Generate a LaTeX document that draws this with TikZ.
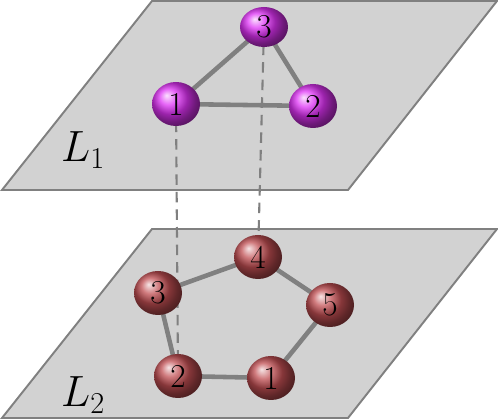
\documentclass[tikz,border=0pt]{standalone}
\usepackage{amsmath,amssymb}
\usepackage{xcolor}
\usepackage{tikz}
\usetikzlibrary{shapes.geometric}

\definecolor{vtop}{RGB}{222,50,245}
\definecolor{vbot}{RGB}{192,78,82}

\begin{document}
\begin{tikzpicture}[
  pln/.style={draw=gray, line width=1.1pt, fill=gray!35},
  vtx/.style={ellipse, inner sep=0pt, minimum width=9.6mm, minimum height=8.8mm,
              font=\fontsize{19}{21}\selectfont},
  vt/.style={vtx, ball color=vtop},
  vb/.style={vtx, ball color=vbot},
  edg/.style={draw=gray, line width=2.6pt},
  cpl/.style={draw=gray, line width=1.2pt, dash pattern=on 6pt off 4pt},
  lbl/.style={anchor=base west, font=\fontsize{23}{26}\selectfont}]
\useasboundingbox (0,0) rectangle (9.96,8.38);
% --- layers ---
\filldraw[pln] (0.04,0.02) -- (6.96,0.02) -- (9.94,3.80) -- (3.04,3.80) -- cycle;
\filldraw[pln] (0.04,4.58) -- (6.96,4.58) -- (9.94,8.36) -- (3.04,8.36) -- cycle;
\node[lbl] (l1) at (1.10,5.14) {$L_1$};
\node[lbl] (l2) at (1.10,0.24) {$L_2$};
% --- vertices ---
\coordinate (t1) at (3.52,6.30);
\coordinate (t2) at (6.26,6.26);
\coordinate (t3) at (5.28,7.84);
\coordinate (b1) at (5.42,0.82);
\coordinate (b2) at (3.56,0.86);
\coordinate (b3) at (3.16,2.52);
\coordinate (b4) at (5.16,3.24);
\coordinate (b5) at (6.60,2.28);
% --- interlayer links ---
\draw[cpl] (t1) -- (b2);
\draw[cpl] (t3) -- (b4);
% --- intralayer edges ---
\draw[edg] (t1) -- (t2) (t1) -- (t3) (t3) -- (t2);
\draw[edg] (b1) -- (b2) -- (b3) -- (b4) -- (b5) -- (b1);
% --- nodes ---
\node[vt] (n1) at (t1) {1};
\node[vt] (n2) at (t2) {2};
\node[vt, minimum height=8.0mm] (n3) at (t3) {3};
\node[vb] (m1) at (b1) {1};
\node[vb] (m2) at (b2) {2};
\node[vb] (m3) at (b3) {3};
\node[vb] (m4) at (b4) {4};
\node[vb] (m5) at (b5) {5};
\end{tikzpicture}
\end{document}
